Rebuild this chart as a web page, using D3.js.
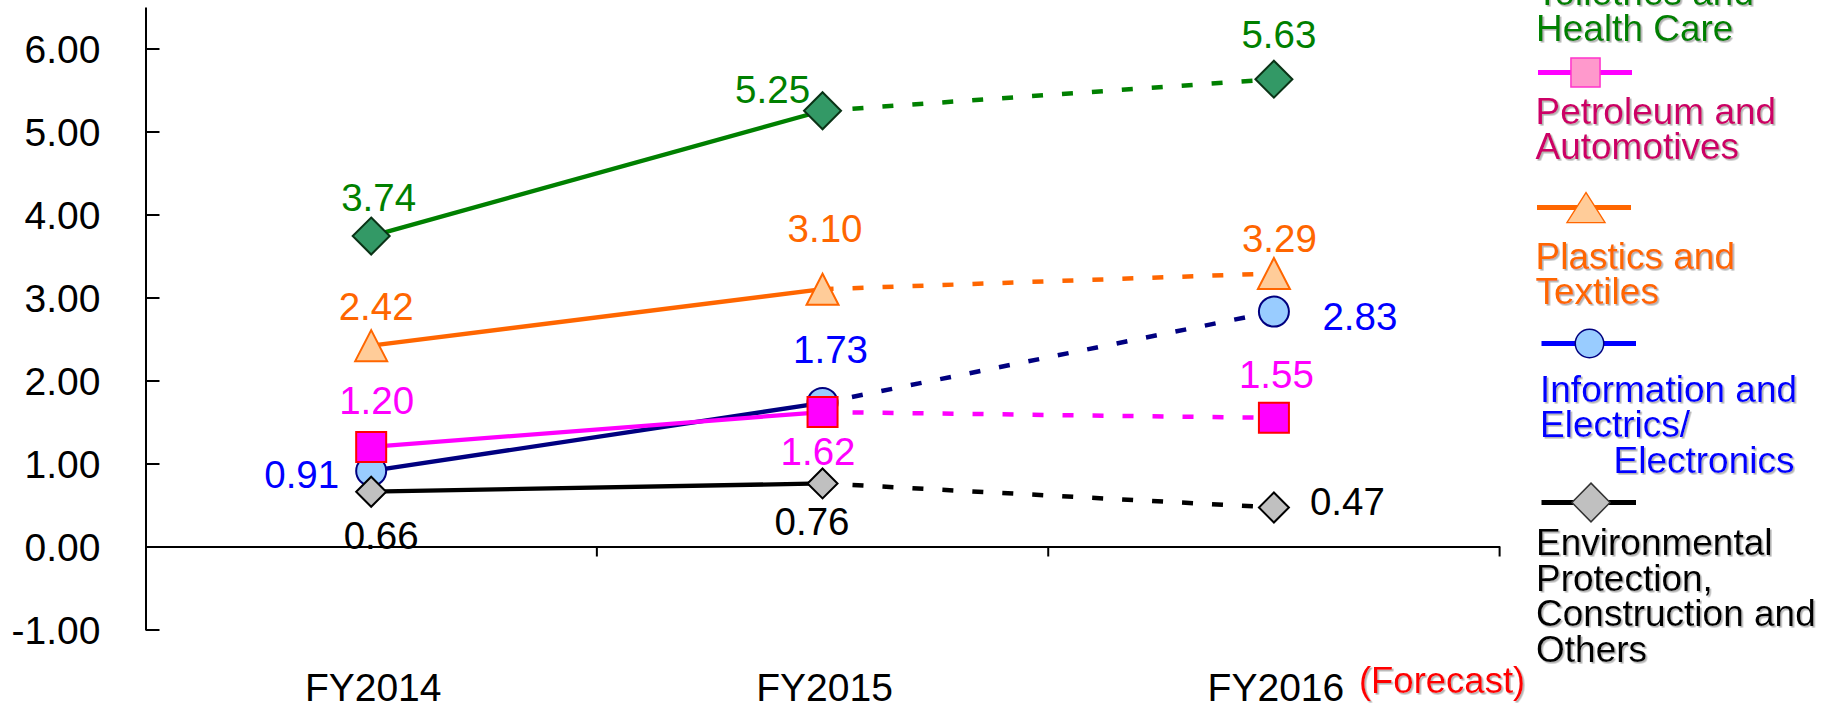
<!DOCTYPE html>
<html>
<head>
<meta charset="utf-8">
<script src="https://cdn.jsdelivr.net/npm/d3@7"></script>
<style>
  html, body { margin: 0; padding: 0; background: #fff; overflow: hidden; }
  svg { display: block; }
  text { font-family: "Liberation Sans", Arial, Helvetica, sans-serif; }
</style>
</head>
<body>
<svg id="chart" width="1823" height="708"></svg>
<script>
// ---------- data ----------
const categories = ["FY2014", "FY2015", "FY2016"];
const healthCareValues       = [3.74, 5.25, 5.63];
const plasticsTextilesValues = [2.42, 3.10, 3.29];
const infoElectronicsValues  = [0.91, 1.73, 2.83];
const petroleumAutoValues    = [1.20, 1.62, 1.55];
const environmentValues      = [0.66, 0.76, 0.47];
const yTickValues = [-1, 0, 1, 2, 3, 4, 5, 6];
const forecastNote = "(Forecast)";

const legendHealthText      = ["Toiletries and", "Health Care"];
const legendPetroleumText   = ["Petroleum and", "Automotives"];
const legendPlasticsText    = ["Plastics and", "Textiles"];
const legendInfoText        = ["Information and", "Electrics/", "Electronics"];
const legendEnvironmentText = ["Environmental", "Protection,", "Construction and", "Others"];

// ---------- layout ----------
const svg = d3.select("#chart");
const FONT_TICK = 39, FONT_LABEL = 38.5, FONT_LEGEND = 37;

// soft grey drop shadow used by the legend captions
const defs = svg.append("defs");
defs.append("filter")
  .attr("id", "softShadow")
  .attr("x", "-5%").attr("y", "-20%").attr("width", "115%").attr("height", "150%")
  .append("feDropShadow")
  .attr("dx", 1.6).attr("dy", 1.6).attr("stdDeviation", 0.6)
  .attr("flood-color", "#a0a0a0").attr("flood-opacity", 0.8);

const x = d3.scaleBand().domain(categories).range([145.5, 1499.6]);
const y = d3.scaleLinear().domain([-1, 6.5]).range([629.5, 7]);
const cx = c => x(c) + x.bandwidth() / 2;

// marker shapes, centred on the data point
const markerPath = {
  diamondL: "M0,-18.5L18.5,0L0,18.5L-18.5,0Z",
  diamondS: "M0,-15L15,0L0,15L-15,0Z",
  triangle: "M0,-15.5L16,15.5L-16,15.5Z",
  square:   "M-15,-15H15V15H-15Z",
  circle:   d3.symbol(d3.symbolCircle, Math.PI * 15 * 15)()
};

// value-label placement relative to each point: [anchor, dx, dy]
const series = [
  { values: healthCareValues, line: "#008000", text: "#008000", marker: "diamondL",
    fill: "#339966", stroke: "#0a3316",
    place: [["middle", 7.5, -25.5], ["end", -12.5, -7.5], ["middle", 5, -31]] },
  { values: plasticsTextilesValues, line: "#ff6600", text: "#ff6600", marker: "triangle",
    fill: "#ffcc99", stroke: "#ff6600",
    place: [["middle", 5, -25.5], ["middle", 2.5, -47.5], ["middle", 5.5, -21]] },
  { values: infoElectronicsValues, line: "#000080", text: "#0000ff", marker: "circle",
    fill: "#99ccff", stroke: "#000080",
    place: [["end", -32, 17.5], ["middle", 8, -39.5], ["start", 48.5, 18.5]] },
  { values: petroleumAutoValues, line: "#ff00ff", text: "#ff00ff", marker: "square",
    fill: "#ff00ff", stroke: "#ff0000",
    place: [["middle", 5.5, -32.5], ["middle", -4.5, 53], ["middle", 2.5, -29.5]] },
  { values: environmentValues, line: "#000000", text: "#000000", marker: "diamondS",
    fill: "#c0c0c0", stroke: "#000000",
    place: [["middle", 10, 57.5], ["middle", -10.5, 51.5], ["start", 36, 7.5]] }
];

// ---------- axes ----------
const yAxis = d3.axisLeft(y)
  .tickValues(yTickValues)
  .tickFormat(d => d.toFixed(2))
  .tickSizeInner(-14)
  .tickSizeOuter(0)
  .tickPadding(45);

const gy = svg.append("g").attr("transform", "translate(145.5,0)").call(yAxis);
gy.select(".domain").attr("stroke", "#000").attr("stroke-width", 2);
gy.selectAll(".tick line").attr("stroke", "#000").attr("stroke-width", 2);
gy.selectAll(".tick text")
  .attr("font-size", FONT_TICK)
  .attr("fill", "#000")
  .attr("dy", "0.36em");

const xAxis = d3.axisBottom(x).tickSize(0).tickFormat("");
const gx = svg.append("g").attr("transform", `translate(0,${y(0)})`).call(xAxis);
gx.select(".domain").attr("stroke", "#000").attr("stroke-width", 2);
gx.selectAll(".tick").remove();

// category boundary ticks below the zero line
svg.append("g").selectAll("line")
  .data(categories)
  .join("line")
  .attr("x1", c => x(c) + x.bandwidth())
  .attr("x2", c => x(c) + x.bandwidth())
  .attr("y1", y(0))
  .attr("y2", y(0) + 10)
  .attr("stroke", "#000")
  .attr("stroke-width", 2);

// category labels
svg.append("g").selectAll("text")
  .data(categories)
  .join("text")
  .attr("x", c => cx(c) + 2)
  .attr("y", 701)
  .attr("text-anchor", "middle")
  .attr("font-size", FONT_TICK)
  .attr("fill", "#000")
  .text(c => c);

// forecast note beside the last category
svg.append("text")
  .attr("x", cx(categories[2]) + 85)
  .attr("y", 693)
  .attr("font-size", 36.5)
  .attr("fill", "#ff0000")
  .attr("filter", "url(#softShadow)")
  .text(forecastNote);

// ---------- lines ----------
const line = d3.line().x(d => cx(d.c)).y(d => y(d.v));
const linesG = svg.append("g");
series.forEach(s => {
  const pts = s.values.map((v, i) => ({ c: categories[i], v }));
  // actual results: solid
  linesG.append("path")
    .attr("d", line(pts.slice(0, 2)))
    .attr("fill", "none")
    .attr("stroke", s.line)
    .attr("stroke-width", 4.3);
  // forecast: dashed
  linesG.append("path")
    .attr("d", line(pts.slice(1, 3)))
    .attr("fill", "none")
    .attr("stroke", s.line)
    .attr("stroke-width", 4.5)
    .attr("stroke-dasharray", "11,19");
});

// ---------- markers ----------
const markersG = svg.append("g");
series.forEach(s => {
  markersG.append("g").selectAll("path")
    .data(s.values)
    .join("path")
    .attr("transform", (v, i) => `translate(${cx(categories[i])},${y(v)})`)
    .attr("d", markerPath[s.marker])
    .attr("fill", s.fill)
    .attr("stroke", s.stroke)
    .attr("stroke-width", 2)
    .attr("stroke-linejoin", "miter");
});

// ---------- value labels ----------
const labelsG = svg.append("g");
series.forEach(s => {
  labelsG.append("g").selectAll("text")
    .data(s.values)
    .join("text")
    .attr("x", (v, i) => cx(categories[i]) + s.place[i][1])
    .attr("y", (v, i) => y(v) + s.place[i][2])
    .attr("text-anchor", (v, i) => s.place[i][0])
    .attr("font-size", FONT_LABEL)
    .attr("fill", s.text)
    .text(v => v.toFixed(2));
});

// ---------- legend ----------
const legend = svg.append("g");
const LH = 35.5;

function legendText(lines, x0, y0, color, indents) {
  const g = legend.append("g").attr("filter", "url(#softShadow)");
  lines.forEach((t, i) => {
    g.append("text")
      .attr("x", x0 + ((indents && indents[i]) || 0))
      .attr("y", y0 + i * LH)
      .attr("font-size", FONT_LEGEND)
      .attr("fill", color)
      .text(t);
  });
}

function legendKey(x1, x2, yy, lineColor, marker, mx, fill, stroke, scale) {
  legend.append("line")
    .attr("x1", x1).attr("x2", x2).attr("y1", yy).attr("y2", yy)
    .attr("stroke", lineColor).attr("stroke-width", 5);
  legend.append("path")
    .attr("transform", `translate(${mx},${yy}) scale(${scale[0]},${scale[1]})`)
    .attr("d", markerPath[marker])
    .attr("fill", fill).attr("stroke", stroke)
    .attr("stroke-width", 1.5 / scale[0]);
}

legendText(legendHealthText, 1536, 5, "#008000");

legendKey(1538, 1632, 72.5, "#ff00ff", "square", 1585.5, "#ff99cc", "#ff33cc", [0.97, 0.97]);
legendText(legendPetroleumText, 1535.5, 123.5, "#cc0066");

legendKey(1537, 1631, 207.5, "#ff6600", "triangle", 1586, "#ffcc99", "#ff6600", [1.19, 0.97]);
legendText(legendPlasticsText, 1535.5, 268.5, "#ff6600");

legendKey(1541.5, 1636, 343.5, "#0000ff", "circle", 1589.5, "#99ccff", "#000080", [0.95, 0.95]);
legendText(legendInfoText, 1540, 401.5, "#0000ff", [0, 0, 73.5]);

legendKey(1541.5, 1636, 502.5, "#000000", "diamondS", 1591, "#c0c0c0", "#333333", [1.27, 1.29]);
legendText(legendEnvironmentText, 1536, 555, "#000000");
</script>
</body>
</html>
